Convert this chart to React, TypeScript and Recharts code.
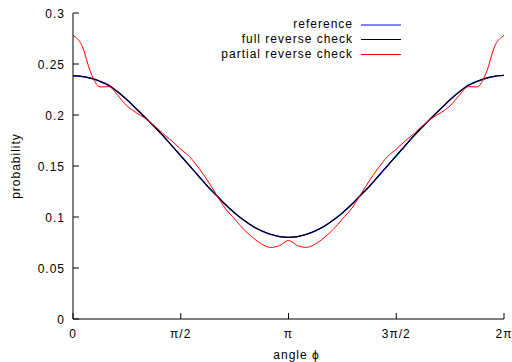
import { LineChart, Line, XAxis, YAxis, Legend, Label } from "recharts";

// samples every pi/24 from 0 to 2pi
const STEPS_PER_PI = 24;

const referenceVals = [
  0.2385, 0.2378, 0.236, 0.233, 0.229, 0.2225, 0.215, 0.2065, 0.198, 0.189,
  0.18, 0.17, 0.16, 0.15, 0.14, 0.13, 0.121, 0.112, 0.104, 0.097, 0.091,
  0.0865, 0.083, 0.0808, 0.08, 0.0808, 0.083, 0.0865, 0.091, 0.097, 0.104,
  0.112, 0.121, 0.13, 0.14, 0.15, 0.16, 0.17, 0.18, 0.189, 0.198, 0.2065,
  0.215, 0.2225, 0.229, 0.233, 0.236, 0.238, 0.2388,
];

const fullCheckVals = [
  0.2385, 0.2378, 0.236, 0.233, 0.229, 0.2225, 0.215, 0.2065, 0.198, 0.189,
  0.18, 0.17, 0.16, 0.15, 0.14, 0.13, 0.121, 0.112, 0.104, 0.097, 0.091,
  0.0865, 0.083, 0.0808, 0.08, 0.0808, 0.083, 0.0865, 0.091, 0.097, 0.104,
  0.112, 0.121, 0.13, 0.14, 0.15, 0.16, 0.17, 0.18, 0.189, 0.198, 0.2065,
  0.215, 0.2225, 0.229, 0.233, 0.236, 0.238, 0.2388,
];

const partialCheckVals = [
  0.278, 0.268, 0.241, 0.2275, 0.2278, 0.219, 0.209, 0.2025, 0.197, 0.19,
  0.182, 0.1745, 0.1665, 0.159, 0.148, 0.1355, 0.1215, 0.108, 0.098, 0.088,
  0.08, 0.0735, 0.0702, 0.072, 0.077, 0.072, 0.0702, 0.0735, 0.08, 0.088,
  0.098, 0.108, 0.1215, 0.1355, 0.148, 0.159, 0.1665, 0.1745, 0.182, 0.19,
  0.197, 0.2025, 0.209, 0.219, 0.2278, 0.2275, 0.241, 0.268, 0.278,
];

const seriesNames = ["reference", "full reverse check", "partial reverse check"];

const xTicks = [0, Math.PI / 2, Math.PI, (3 * Math.PI) / 2, 2 * Math.PI];
const xTickLabels = ["0", "π/2", "π", "3π/2", "2π"];
const yTicks = [0, 0.05, 0.1, 0.15, 0.2, 0.25, 0.3];
const yTickLabels = ["0", "0.05", "0.1", "0.15", "0.2", "0.25", "0.3"];

const chartData = referenceVals.map((v, i) => ({
  phi: (i * Math.PI) / STEPS_PER_PI,
  reference: v,
  full: fullCheckVals[i],
  partial: partialCheckVals[i],
}));

const FONT = "'Liberation Sans', Arial, Helvetica, sans-serif";
const textStyle = { fontFamily: FONT, fontSize: 12, letterSpacing: 1, fill: "#000" };

function XTick(props: any) {
  const { x, y, payload } = props;
  let idx = 0;
  xTicks.forEach((t, i) => {
    if (Math.abs(t - payload.value) < 1e-6) idx = i;
  });
  return (
    <g>
      <line x1={x} x2={x} y1={y - 8} y2={y - 14} stroke="#000" />
      <text x={x} y={y + 11} textAnchor="middle" style={textStyle}>
        {xTickLabels[idx]}
      </text>
    </g>
  );
}

function YTick(props: any) {
  const { x, y, payload } = props;
  let idx = 0;
  yTicks.forEach((t, i) => {
    if (Math.abs(t - payload.value) < 1e-6) idx = i;
  });
  return (
    <g>
      <line x1={x + 9} x2={x + 15} y1={y} y2={y} stroke="#000" />
      <text x={x + 1} y={y + 5} textAnchor="end" style={textStyle}>
        {yTickLabels[idx]}
      </text>
    </g>
  );
}

function LegendBox(props: any) {
  const { payload = [] } = props;
  // keep the plotting order, not the alphabetical one
  const items = seriesNames
    .map((n) => payload.find((p: any) => p.value === n))
    .filter(Boolean);
  return (
    <div style={{ fontFamily: FONT, fontSize: 12, letterSpacing: 1, color: "#000" }}>
      {items.map((entry: any, i: number) => (
        <div
          key={entry.value}
          style={{ display: "flex", justifyContent: "flex-end", height: 15, lineHeight: "15px" }}
        >
          <span>{entry.value}</span>
          <svg width={40} height={15} style={{ marginLeft: 8, display: "block" }}>
            <line
              x1={0}
              x2={40}
              y1={i === 0 ? 8 : 7.5}
              y2={i === 0 ? 8 : 7.5}
              stroke={entry.color}
              strokeWidth={1}
            />
          </svg>
        </div>
      ))}
    </div>
  );
}

export default function App() {
  return (
    <div style={{ position: "absolute", left: 0, top: 0, background: "#fff" }}>
      <LineChart
        width={512}
        height={362}
        data={chartData}
        margin={{ top: 13, right: 8, bottom: 0, left: 0 }}
      >
        <XAxis
          dataKey="phi"
          type="number"
          domain={[0, 2 * Math.PI]}
          ticks={xTicks}
          interval={0}
          height={43}
          stroke="#000"
          tickLine={false}
          tick={<XTick />}
        >
          <Label
            value="angle ϕ"
            position="insideBottom"
            offset={3}
            dx={8}
            style={textStyle}
          />
        </XAxis>
        <XAxis
          xAxisId="top"
          orientation="top"
          type="number"
          domain={[0, 2 * Math.PI]}
          ticks={xTicks}
          interval={0}
          height={0}
          mirror
          tick={false}
          tickSize={6}
          stroke="#000"
        />
        <YAxis
          type="number"
          domain={[0, 0.3]}
          ticks={yTicks}
          interval={0}
          width={73}
          stroke="#000"
          tickLine={false}
          tickMargin={3}
          tick={<YTick />}
        >
          <Label
            value="probability"
            angle={-90}
            position="center"
            dx={-21}
            style={textStyle}
          />
        </YAxis>
        <YAxis
          yAxisId="right"
          orientation="right"
          type="number"
          domain={[0, 0.3]}
          ticks={yTicks}
          interval={0}
          width={0}
          mirror
          tick={false}
          tickSize={6}
          stroke="#000"
        />
        <Legend
          layout="horizontal"
          verticalAlign="middle"
          align="center"
          content={<LegendBox />}
          wrapperStyle={{ position: "absolute", left: 150, top: 17, width: 251, margin: 0 }}
        />
        <Line
          type="monotone"
          dataKey="reference"
          name={seriesNames[0]}
          stroke="#0000ff"
          strokeWidth={1.4}
          dot={false}
          isAnimationActive={false}
        />
        <Line
          type="monotone"
          dataKey="full"
          name={seriesNames[1]}
          stroke="#000000"
          strokeWidth={1.1}
          dot={false}
          isAnimationActive={false}
        />
        <Line
          type="monotone"
          dataKey="partial"
          name={seriesNames[2]}
          stroke="#ff0000"
          strokeWidth={1}
          dot={false}
          isAnimationActive={false}
        />
      </LineChart>
    </div>
  );
}
